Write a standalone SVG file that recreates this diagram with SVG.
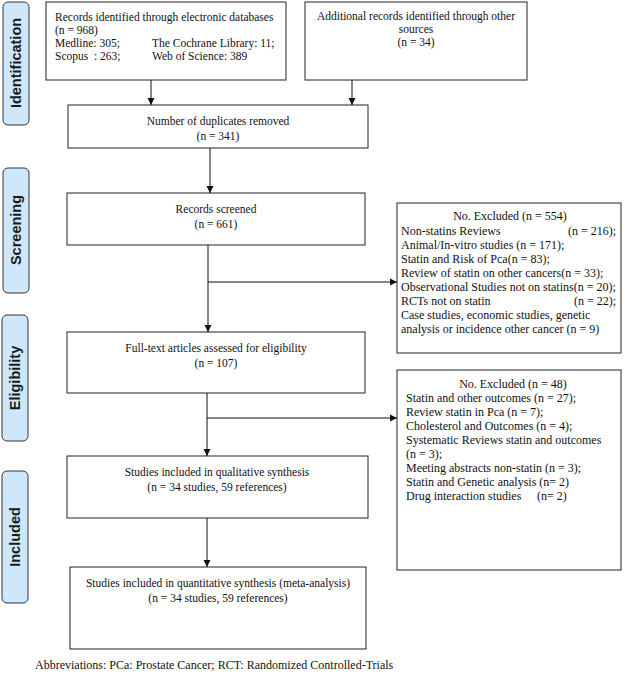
<svg xmlns="http://www.w3.org/2000/svg" width="625" height="674" viewBox="0 0 625 674">
<style>
.box{fill:#fff;stroke:#222;stroke-width:1}
.side{fill:#cfe7fb;stroke:#333;stroke-width:1}
.st{font-family:"Liberation Sans",Arial,sans-serif;font-weight:bold;font-size:14.5px;fill:#1a1a1a;text-anchor:middle}
.t{font-family:"Liberation Serif","Times New Roman",serif;font-size:12px;fill:#111}
.m{font-size:11.5px}
.c{text-anchor:middle}
.e{text-anchor:end}
.ln{stroke:#111;stroke-width:1;fill:none}
</style>
<defs>
<marker id="ah" markerWidth="8" markerHeight="8" refX="7" refY="4" orient="auto" markerUnits="userSpaceOnUse">
<path d="M0,0.5 L7,4 L0,7.5 Z" fill="#111"/>
</marker>
</defs>
<rect width="625" height="674" fill="#fff"/>

<g id="label-identification">
<rect class="side" x="3" y="2" width="26" height="123" rx="5"/>
<text class="st" transform="translate(21,63) rotate(-90)">Identification</text>
</g>
<g id="label-screening">
<rect class="side" x="3" y="168" width="26" height="125" rx="5"/>
<text class="st" transform="translate(21,230) rotate(-90)">Screening</text>
</g>
<g id="label-eligibility">
<rect class="side" x="2" y="315" width="26" height="126" rx="5"/>
<text class="st" transform="translate(20,378) rotate(-90)">Eligibility</text>
</g>
<g id="label-included">
<rect class="side" x="2" y="471" width="26" height="132" rx="5"/>
<text class="st" transform="translate(20,537) rotate(-90)">Included</text>
</g>

<g id="records-db">
<rect class="box" x="46" y="2" width="240" height="78"/>
<text class="t m" x="55" y="21">Records identified through electronic databases</text>
<text class="t m" x="55" y="34">(n = 968)</text>
<text class="t m" x="55" y="47">Medline: 305;</text>
<text class="t m" x="152" y="47">The Cochrane Library: 11;</text>
<text class="t m" x="55" y="60" xml:space="preserve">Scopus  : 263;</text>
<text class="t m" x="152" y="60">Web of Science: 389</text>
</g>

<g id="records-other">
<rect class="box" x="305" y="2" width="222" height="78"/>
<text class="t m c" x="416" y="20">Additional records identified through other</text>
<text class="t m c" x="416" y="33">sources</text>
<text class="t m c" x="416" y="46">(n = 34)</text>
</g>

<g id="duplicates">
<rect class="box" x="68" y="105" width="300" height="43"/>
<text class="t m c" x="218" y="125">Number of duplicates removed</text>
<text class="t m c" x="218" y="140">(n = 341)</text>
</g>

<g id="screened">
<rect class="box" x="67" y="193" width="298" height="52"/>
<text class="t m c" x="216" y="213">Records screened</text>
<text class="t m c" x="216" y="228">(n = 661)</text>
</g>

<g id="excluded-1">
<rect class="box" x="397" y="203" width="224" height="150"/>
<text class="t c" x="510" y="220">No. Excluded (n = 554)</text>
<text class="t" x="401" y="235">Non-statins Reviews</text>
<text class="t e" x="616" y="235">(n = 216);</text>
<text class="t" x="401" y="249">Animal/In-vitro studies (n = 171);</text>
<text class="t" x="401" y="263">Statin and Risk of Pca(n = 83);</text>
<text class="t" x="401" y="277">Review of statin on other cancers(n = 33);</text>
<text class="t" x="401" y="291">Observational Studies not on statins(n = 20);</text>
<text class="t" x="401" y="305">RCTs not on statin</text>
<text class="t e" x="616" y="305">(n = 22);</text>
<text class="t" x="401" y="319">Case studies, economic studies, genetic</text>
<text class="t" x="401" y="333">analysis or incidence other cancer (n = 9)</text>
</g>

<g id="fulltext">
<rect class="box" x="67" y="332" width="298" height="61"/>
<text class="t m c" x="216" y="352">Full-text articles assessed for eligibility</text>
<text class="t m c" x="216" y="367">(n = 107)</text>
</g>

<g id="excluded-2">
<rect class="box" x="397" y="370" width="224" height="200"/>
<text class="t c" x="513" y="388">No. Excluded (n = 48)</text>
<text class="t" x="406" y="402">Statin and other outcomes (n = 27);</text>
<text class="t" x="406" y="416">Review statin in Pca (n = 7);</text>
<text class="t" x="406" y="430">Cholesterol and Outcomes (n = 4);</text>
<text class="t" x="406" y="444">Systematic Reviews statin and outcomes</text>
<text class="t" x="406" y="458">(n = 3);</text>
<text class="t" x="406" y="472">Meeting abstracts non-statin (n = 3);</text>
<text class="t" x="406" y="486">Statin and Genetic analysis (n= 2)</text>
<text class="t" x="406" y="500">Drug interaction studies</text>
<text class="t" x="537" y="500">(n= 2)</text>
</g>

<g id="qualitative">
<rect class="box" x="67" y="456" width="301" height="62"/>
<text class="t m c" x="217" y="476">Studies included in qualitative synthesis</text>
<text class="t m c" x="217" y="491">(n = 34 studies, 59 references)</text>
</g>

<g id="quantitative">
<rect class="box" x="70" y="567" width="296" height="82"/>
<text class="t m c" x="218" y="587">Studies included in quantitative synthesis (meta-analysis)</text>
<text class="t m c" x="218" y="602">(n = 34 studies, 59 references)</text>
</g>

<text class="t" x="35" y="669">Abbreviations: PCa: Prostate Cancer; RCT: Randomized Controlled-Trials</text>

<g id="connectors">
<line class="ln" x1="151" y1="80" x2="151" y2="105" marker-end="url(#ah)"/>
<line class="ln" x1="352" y1="80" x2="352" y2="105" marker-end="url(#ah)"/>
<line class="ln" x1="210" y1="148" x2="210" y2="193" marker-end="url(#ah)"/>
<line class="ln" x1="208" y1="245" x2="208" y2="332" marker-end="url(#ah)"/>
<line class="ln" x1="208" y1="282" x2="397" y2="282" marker-end="url(#ah)"/>
<line class="ln" x1="207" y1="393" x2="207" y2="456" marker-end="url(#ah)"/>
<line class="ln" x1="207" y1="418" x2="397" y2="418" marker-end="url(#ah)"/>
<line class="ln" x1="207" y1="518" x2="207" y2="567" marker-end="url(#ah)"/>
</g>
</svg>
